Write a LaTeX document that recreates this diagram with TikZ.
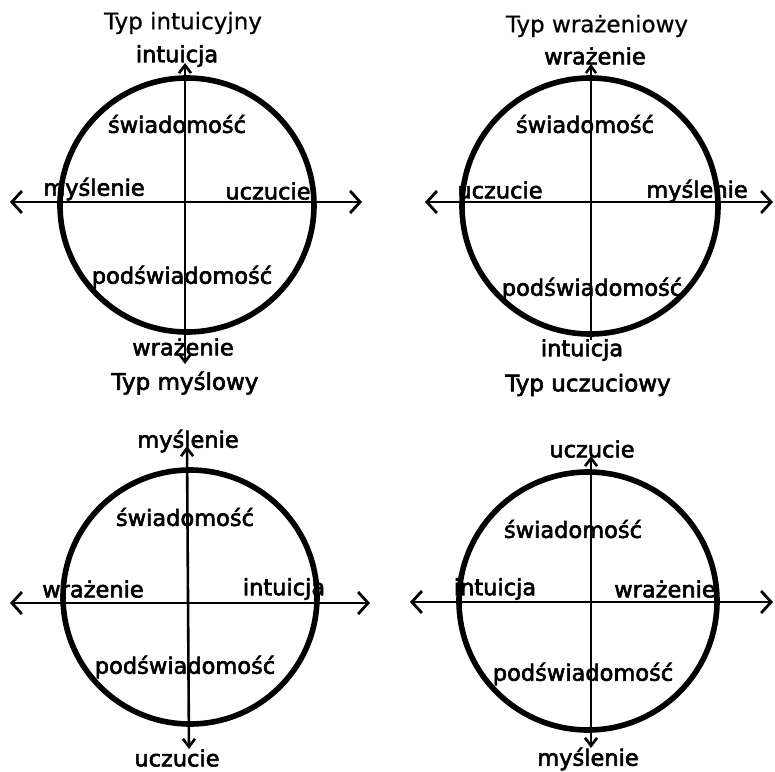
\documentclass[tikz,border=0pt]{standalone}
\usepackage{fontspec}
\setmainfont{DejaVu Sans}
\newfontfamily\handfont[FakeBold=2.6]{DejaVu Sans}
\newfontfamily\thinfont[FakeBold=0.6]{DejaVu Sans}
\usetikzlibrary{arrows.meta}
\tikzset{
  ring/.style={line width=5.6pt},
  axis/.style={line width=2.6pt, {Straight Barb[length=10pt,width=22pt,line width=2.8pt]}-{Straight Barb[length=10pt,width=22pt,line width=2.8pt]}},
  vaxis/.style={line width=2.6pt, -{Straight Barb[length=7pt,width=10pt,line width=2.4pt]}},
  vaxisb/.style={line width=2.6pt, {Straight Barb[length=8pt,width=12pt,line width=2.6pt]}-{Straight Barb[length=8pt,width=12pt,line width=2.6pt]}},
  lbl/.style={inner sep=0pt, font=\handfont\fontsize{22.5}{26}\selectfont},
  ttl/.style={inner sep=0pt, font=\thinfont\fontsize{23}{26}\selectfont},
  ttlb/.style={inner sep=0pt, font=\handfont\fontsize{23}{26}\selectfont},
}
\begin{document}
\begin{tikzpicture}[x=1pt,y=-1pt]
\useasboundingbox[fill=white] (0,0) rectangle (775,771);
% ---------- Panel 1: Typ intuicyjny ----------
\coordinate (c1) at (187,205);
\draw[ring] (c1) circle[radius=127];
\coordinate (h1l) at (10,202); \coordinate (h1r) at (362,202);
\coordinate (v1t) at (185,63); \coordinate (v1b) at (185,364);
\draw[axis] (h1l) -- (h1r);
\draw[vaxisb] (v1b) -- (v1t);
\node[ttl] (t1) at (183,23) {Typ intuicyjny};
\node[lbl] (a1t) at (177,56) {intuicja};
\node[lbl] (a1s) at (177,124) {świadomość};
\node[lbl] (a1l) at (94,189) {myślenie};
\node[lbl] (a1r) at (268,191) {uczucie};
\node[lbl] (a1p) at (182,277) {podświadomość};
\node[lbl] (a1b) at (183,347) {wrażenie};
% ---------- Panel 2: Typ wrażeniowy ----------
\coordinate (c2) at (590,206);
\draw[ring] (c2) circle[radius=128];
\coordinate (h2l) at (425,202); \coordinate (h2r) at (773,202);
\coordinate (v2t) at (591,64); \coordinate (v2b) at (591,340);
\draw[axis] (h2l) -- (h2r);
\draw[vaxis] (v2b) -- (v2t);
\node[ttl] (t2) at (597,26) {Typ wrażeniowy};
\node[lbl] (a2t) at (595,56) {wrażenie};
\node[lbl] (a2s) at (585,124) {świadomość};
\node[lbl] (a2l) at (500,190) {uczucie};
\node[lbl] (a2r) at (697,191) {myślenie};
\node[lbl] (a2p) at (592,289) {podświadomość};
\node[lbl] (a2b) at (582,350) {intuicja};
% ---------- Panel 3: Typ myślowy ----------
\coordinate (c3) at (190,597);
\draw[ring] (c3) circle[radius=127];
\coordinate (h3l) at (10,603); \coordinate (h3r) at (370,603);
\coordinate (v3t) at (187,446); \coordinate (v3b) at (189,749);
\draw[axis] (h3l) -- (h3r);
\draw[vaxisb] (v3b) -- (v3t);
\node[ttlb] (t3) at (185,383) {Typ myślowy};
\node[lbl] (a3t) at (188,441) {myślenie};
\node[lbl] (a3s) at (185,517) {świadomość};
\node[lbl] (a3l) at (93,589) {wrażenie};
\node[lbl] (a3r) at (284,589) {intuicja};
\node[lbl] (a3p) at (185,667) {podświadomość};
\node[lbl] (a3b) at (177,758) {uczucie};
% ---------- Panel 4: Typ uczuciowy ----------
\coordinate (c4) at (588,601);
\draw[ring] (c4) circle[radius=129];
\coordinate (h4l) at (410,602); \coordinate (h4r) at (773,602);
\coordinate (v4t) at (591,456); \coordinate (v4b) at (591,748);
\draw[axis] (h4l) -- (h4r);
\draw[vaxisb] (v4b) -- (v4t);
\node[ttlb] (t4) at (588,385) {Typ uczuciowy};
\node[lbl] (a4t) at (592,449) {uczucie};
\node[lbl] (a4s) at (573,529) {świadomość};
\node[lbl] (a4l) at (495,589) {intuicja};
\node[lbl] (a4r) at (665,589) {wrażenie};
\node[lbl] (a4p) at (583,674) {podświadomość};
\node[lbl] (a4b) at (588,759) {myślenie};
\end{tikzpicture}
\end{document}
